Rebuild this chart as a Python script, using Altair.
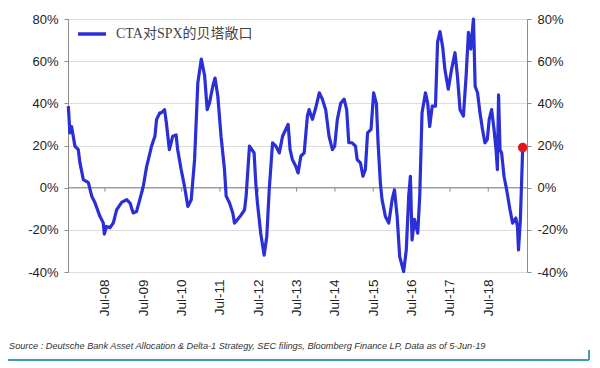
import altair as alt
import pandas as pd

series_name = "CTA对SPX的贝塔敞口"
source_text = ("Source : Deutsche Bank Asset Allocation & Delta-1 Strategy, SEC filings, "
               "Bloomberg Finance LP, Data as of 5-Jun-19")

dates = [
    "2007-07-18", "2007-08-02", "2007-08-18", "2007-09-19", "2007-10-21", "2007-11-05",
    "2007-12-08", "2008-01-25", "2008-02-26", "2008-03-27", "2008-05-14", "2008-06-15",
    "2008-06-25", "2008-07-16", "2008-08-17", "2008-09-19", "2008-10-20", "2008-12-07",
    "2009-01-24", "2009-02-25", "2009-03-27", "2009-04-28", "2009-05-29", "2009-07-01",
    "2009-08-02", "2009-09-03", "2009-09-18", "2009-10-20", "2009-11-05", "2009-12-06",
    "2009-12-19", "2010-01-20", "2010-02-06", "2010-03-07", "2010-04-08", "2010-05-10",
    "2010-05-25", "2010-06-27", "2010-07-29", "2010-08-30", "2010-10-01", "2010-11-02",
    "2010-12-03", "2011-01-05", "2011-02-06", "2011-03-02", "2011-03-23", "2011-04-24",
    "2011-05-16", "2011-06-11", "2011-07-12", "2011-08-14", "2011-08-30", "2011-10-01",
    "2011-11-01", "2011-11-17", "2011-12-18", "2012-01-20", "2012-02-21", "2012-03-07",
    "2012-04-08", "2012-05-22", "2012-06-07", "2012-06-23", "2012-07-24", "2012-08-26",
    "2012-09-20", "2012-10-13", "2012-11-14", "2012-12-15", "2013-01-17", "2013-02-17",
    "2013-03-19", "2013-04-11", "2013-04-30", "2013-05-22", "2013-06-23", "2013-07-15",
    "2013-08-10", "2013-09-11", "2013-10-12", "2013-10-28", "2013-11-29", "2013-12-31",
    "2014-02-02", "2014-03-03", "2014-04-04", "2014-05-06", "2014-06-07", "2014-06-29",
    "2014-07-24", "2014-08-25", "2014-09-27", "2014-10-21", "2014-11-10", "2014-12-12",
    "2015-01-13", "2015-01-29", "2015-03-01", "2015-03-25", "2015-04-17", "2015-05-08",
    "2015-06-10", "2015-07-05", "2015-07-31", "2015-08-16", "2015-09-07", "2015-09-23",
    "2015-10-25", "2015-11-26", "2015-12-28", "2016-01-19", "2016-02-14", "2016-03-09",
    "2016-04-16", "2016-05-11", "2016-06-03", "2016-06-19", "2016-07-05", "2016-07-27",
    "2016-08-28", "2016-09-16", "2016-10-08", "2016-11-10", "2016-12-01", "2016-12-20",
    "2017-01-13", "2017-02-13", "2017-03-05", "2017-03-28", "2017-04-22", "2017-05-14",
    "2017-06-15", "2017-07-16", "2017-08-18", "2017-09-10", "2017-10-05", "2017-11-06",
    "2017-12-02", "2017-12-24", "2018-01-15", "2018-02-10", "2018-02-26", "2018-03-21",
    "2018-04-13", "2018-05-07", "2018-05-30", "2018-06-22", "2018-07-10", "2018-08-02",
    "2018-08-25", "2018-09-13", "2018-09-26", "2018-10-07", "2018-10-21", "2018-11-05",
    "2018-11-28", "2018-12-23", "2019-01-24", "2019-02-18", "2019-03-21", "2019-04-05",
    "2019-04-15", "2019-05-03", "2019-05-25",
]
values = [
    38.7, 26, 29, 19.7, 18, 12,
    3.8, 2.4, -4, -7, -13.6, -16.7,
    -22, -18.4, -19, -16.7, -10.5, -7,
    -5.7, -7.3, -12, -11.3, -5.7, 0.6,
    10, 16.5, 19.7, 24.4, 32.4, 35.5,
    35.5, 37, 30.8, 18, 24.4, 25,
    18, 8.6, 0.6, -8.9, -5.7, 13.3,
    49.8, 61, 53, 37, 40, 48,
    52, 43.5, 24.4, 8.6, -4, -7.3,
    -12, -16.8, -15, -12.9, -10.5, -4,
    19.7, 16.5, 2.2, -7.3, -21.6, -32,
    -23, -1, 21.3, 19.7, 16.5, 24.4,
    27.6, 30, 18, 13.3, 10.2, 7,
    14.9, 16.5, 34, 37, 32.4, 38,
    45, 42, 37, 24.4, 18, 19.7,
    32.4, 40, 42, 37, 21.3, 21.3,
    19.7, 13.3, 11.8, 5.4, 8.6, 26,
    27.6, 45, 40, 21.3, 2.2, -5.7,
    -13.7, -16.8, -5.7, -1, -13.7, -32.7,
    -39.8, -29.5, -4, 5.4, -24.8, -15,
    -21.6, -4, 35.5, 45, 40, 29,
    38.7, 38.7, 69, 74, 67, 56,
    46.7, 56, 64, 53, 37, 34,
    53, 73.7, 65.7, 80, 48, 45,
    35.5, 27.6, 21.3, 22.9, 32.4, 37,
    27.6, 18, 8.6, 44, 18, 16.5,
    5.4, -1, -10.5, -16.8, -14.4, -18.4,
    -29.5, -15, 19,
]
tick_dates = ["2008-07-01", "2009-07-01", "2010-07-01", "2011-07-01", "2012-07-01", "2013-07-01",
              "2014-07-01", "2015-07-01", "2016-07-01", "2017-07-01", "2018-07-01"]
y_ticks = [-40, -20, 0, 20, 40, 60, 80]
last_date = ["2019-05-25"]
last_value = [19]

df = pd.DataFrame({"date": dates, "value": values, "series": series_name})
ticks_df = pd.DataFrame({"date": tick_dates, "value": [0] * len(tick_dates)})
last_df = pd.DataFrame({"date": last_date, "value": last_value})
zero_df = pd.DataFrame({"value": [0]})
src_df = pd.DataFrame({"t": [source_text]})

x_scale = alt.Scale(type="utc", domain=[alt.DateTime(year=2007, month=7, date=15, utc=True),
                                        alt.DateTime(year=2019, month=7, date=5, utc=True)])
y_scale = alt.Scale(domain=[-40, 80], nice=False, zero=False)

axis_color = "#8c8c8c"
label_font = "Liberation Sans"


def y_axis(orient, grid):
    return alt.Axis(orient=orient, values=y_ticks, labelExpr="datum.value + '%'", grid=grid,
                    gridColor="#dcdcdc", domainColor=axis_color, tickColor=axis_color,
                    tickSize=4, labelFontSize=13, labelColor="#222", labelFont=label_font,
                    labelPadding=6, title=None)


x_axis = alt.Axis(values=[alt.DateTime(year=int(d[:4]), month=7, date=1, utc=True) for d in tick_dates],
                  labelExpr="utcFormat(datum.value, '%b-%y')", labelAngle=-90, domain=False,
                  ticks=False, grid=False, labelPadding=7, labelFontSize=13.5,
                  labelOverlap=False, labelColor="#222", labelFont=label_font, title=None)

zero = alt.Chart(zero_df).mark_rule(color=axis_color, strokeWidth=1).encode(
    y=alt.Y("value:Q", scale=y_scale, axis=y_axis("left", True)))

ticks = alt.Chart(ticks_df).mark_rule(color=axis_color, strokeWidth=1, y2Offset=4).encode(
    x=alt.X("date:T", scale=x_scale, axis=x_axis),
    y=alt.Y("value:Q", scale=y_scale, axis=None),
    y2="value:Q")

line = alt.Chart(df).mark_line(strokeWidth=3.2, strokeJoin="round").encode(
    x=alt.X("date:T", scale=x_scale, axis=x_axis),
    y=alt.Y("value:Q", scale=y_scale, axis=None),
    color=alt.Color("series:N", scale=alt.Scale(range=["#2B2FD6"]),
                    legend=alt.Legend(orient="none", legendX=8, legendY=-1, title=None,
                                      symbolType="stroke", symbolStrokeWidth=3.5,
                                      symbolSize=784, symbolStrokeColor="#2B2FD6",
                                      labelFont="Liberation Serif, Noto Sans CJK SC",
                                      labelFontSize=14, labelColor="#444", padding=0,
                                      labelOffset=8)))

dot = alt.Chart(last_df).mark_circle(color="#E8141B", size=90, opacity=1).encode(
    x=alt.X("date:T", scale=x_scale, axis=x_axis),
    y=alt.Y("value:Q", scale=y_scale, axis=y_axis("right", False)))

src = alt.Chart(src_df).mark_text(align="left", baseline="middle", fontStyle="italic",
                                  fontSize=9.2, font=label_font, color="#333").encode(
    x=alt.value(-59), y=alt.value(327), text="t:N")

teal_h = alt.Chart(src_df).mark_rule(color="#3E9EAB", strokeWidth=2).encode(
    x=alt.value(-60), x2=alt.value(521), y=alt.value(341))
teal_v = alt.Chart(src_df).mark_rule(color="#3E9EAB", strokeWidth=2).encode(
    x=alt.value(521), y=alt.value(331), y2=alt.value(341))

chart = alt.layer(zero, ticks, line, dot, src, teal_h, teal_v).resolve_scale(
    y="independent"
).properties(
    width=459, height=253,
    autosize=alt.AutoSizeParams(type="none"),
    padding={"left": 60, "top": 11, "right": 65, "bottom": 92},
).configure_view(stroke=None)

chart.save("out.html", embed_options={"renderer": "svg", "actions": False})
